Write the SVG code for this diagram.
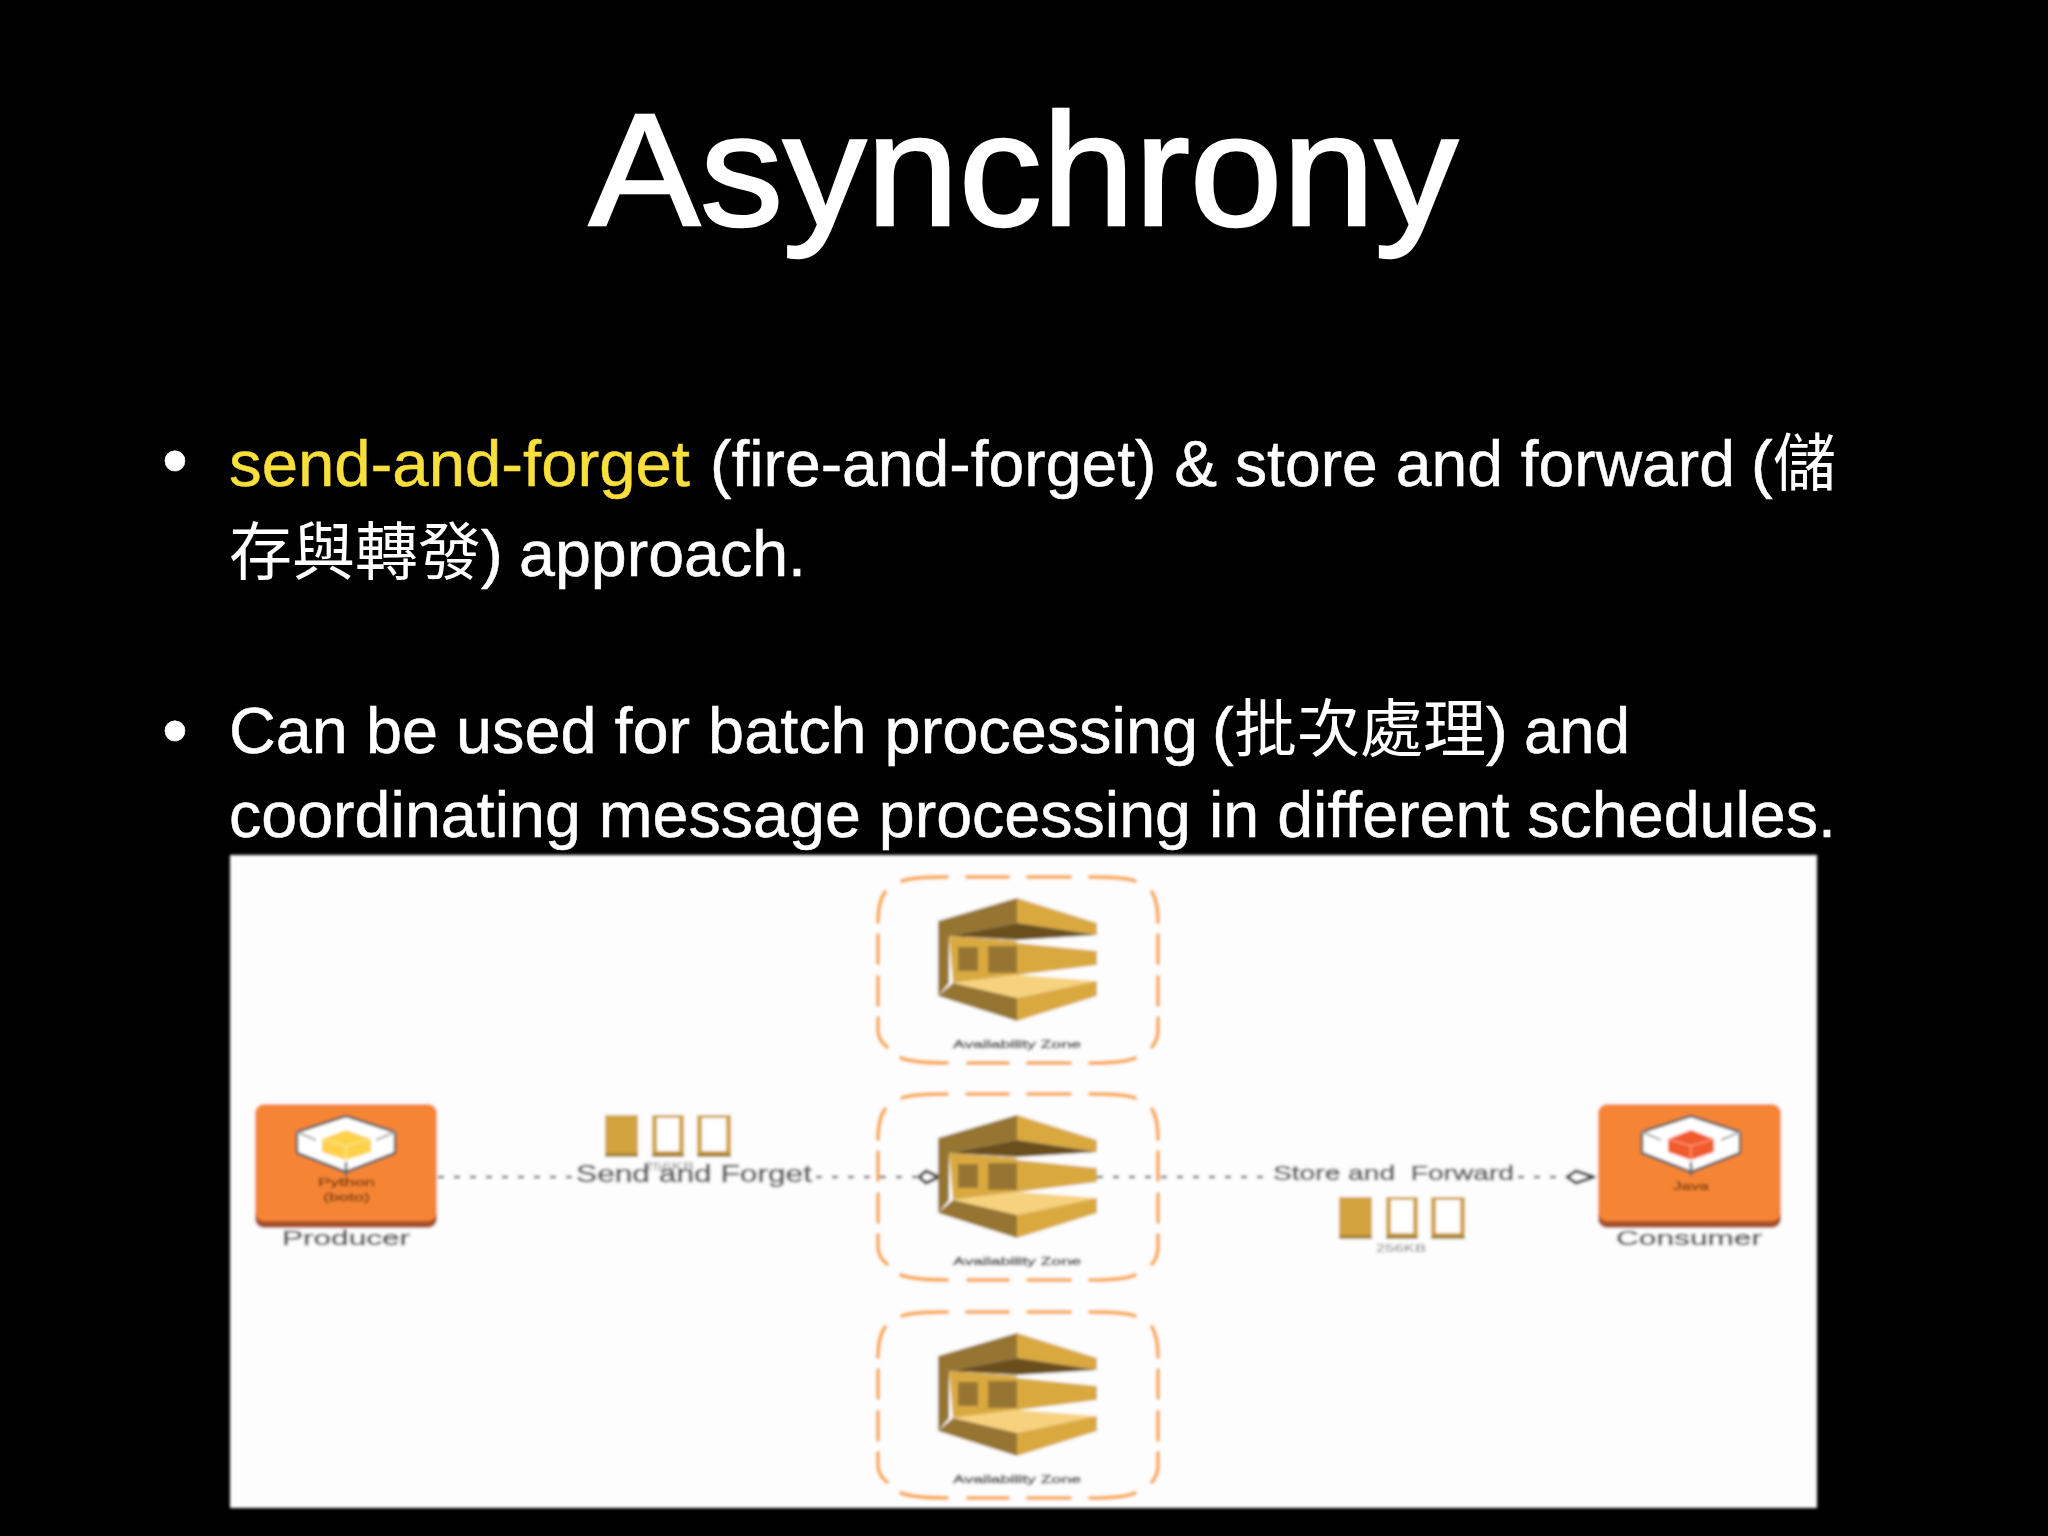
<svg xmlns="http://www.w3.org/2000/svg" xmlns:xlink="http://www.w3.org/1999/xlink" width="2048" height="1536" viewBox="0 0 2048 1536">
<style>
.t{font-family:"Liberation Sans","Noto Sans CJK TC",sans-serif;fill:#fff;font-size:65px;stroke:#fff;stroke-width:.5px}
.y{fill:#f8df3c;stroke:#f8df3c}
.cjk{font-family:"Noto Sans CJK TC",sans-serif;font-size:63px;stroke:none}
.b{font-size:74px}
.l{font-family:"Liberation Sans",sans-serif;fill:#5c5c5c;stroke:#5c5c5c;stroke-width:.6px}
.n{font-family:"Liberation Sans",sans-serif;font-size:11px;fill:#803c10;stroke:#803c10;stroke-width:.4px}
.dark{fill:#967530}.mid{fill:#d9a93f}.deep{fill:#6b4f1f}.lite{fill:#f7d27e}
.dots{stroke:#666;stroke-width:2.5;stroke-dasharray:6 10;fill:none}
.az{fill:none;stroke:#f9a94a;stroke-width:4;stroke-linecap:round}
.arrow{fill:#fff;stroke:#3c3c3c;stroke-width:3.2;stroke-linejoin:round}
</style>
<defs>
<filter id="soft" filterUnits="userSpaceOnUse" x="225" y="850" width="1600" height="664"><feGaussianBlur stdDeviation="1.4"/></filter>
<g id="azbox">
<path class="az" d="M902 881Q912 877 947 877M967 877H1008M1028 877H1070M1090 877Q1125 877 1135 881M885 892Q878 902 878 922M878 935V963M878 977V1005M878 1018V1030Q878 1040 887 1047M901 1058Q915 1063 947 1063M968 1063H1008M1028 1063H1070M1090 1063Q1125 1063 1135 1058M1152 892Q1158 902 1158 922M1158 935V963M1158 977V1005M1158 1018V1030Q1158 1040 1152 1047"/>
<polygon class="dark" points="938,921 1017,898 1017,923 949,936 949,983 938,996"/>
<polygon class="mid" points="1017,898 1097,923 1097,935 1017,923"/>
<polygon class="deep" points="949,936 1017,923 1097,935 1017,940"/>
<polygon class="mid" points="949,936 1017,941 1017,975 953,983"/>
<rect class="dark" x="958" y="947" width="20" height="24"/>
<rect class="dark" x="988" y="946" width="29" height="27"/>
<polygon class="mid" points="1017,943 1097,951 1097,965 1017,975"/>
<polygon class="lite" points="953,983 1017,975 1097,981 1017,998"/>
<polygon class="dark" points="938,996 953,983 1017,998 1017,1021"/>
<polygon class="mid" points="1017,998 1097,981 1097,996 1017,1021"/>
</g>
<g id="hex">
<polygon points="0,0 49,16 49,37 0,56 -49,37 -49,16" fill="#fff" stroke="#5a5a5a" stroke-width="2.5" stroke-linejoin="round"/>
<path d="M-49 16L-30 24M49 16L30 24" stroke="#aaa" stroke-width="2" fill="none"/>
<path d="M0 46V60" stroke="#666" stroke-width="2.5" fill="none"/>
</g>
<g id="pack">
<rect x="0" y="0" width="33" height="42" fill="#d2a43f"/><rect x="0" y="38" width="33" height="4" fill="#a8842e"/>
<rect x="47" y="0" width="32" height="42" fill="#d2a43f"/><rect x="52" y="3" width="22" height="33" fill="#fff"/><rect x="47" y="38" width="32" height="4" fill="#a8842e"/>
<rect x="92" y="0" width="34" height="42" fill="#d2a43f"/><rect x="97" y="3" width="24" height="33" fill="#fff"/><rect x="92" y="38" width="34" height="4" fill="#a8842e"/>
</g>
</defs>
<rect width="2048" height="1536" fill="#000"/>

<text x="589" y="225" font-family="'Liberation Sans',sans-serif" font-size="160" fill="#fff" stroke="#fff" stroke-width="2.5" textLength="869" lengthAdjust="spacingAndGlyphs">Asynchrony</text>

<text class="t b" x="175" y="486" text-anchor="middle">•</text>
<text class="t y" x="229" y="486" textLength="461" lengthAdjust="spacingAndGlyphs">send-and-forget</text>
<text class="t" x="710" y="486" textLength="1025" lengthAdjust="spacingAndGlyphs">(fire-and-forget) &amp; store and forward</text>
<text class="t" x="1751" y="486">(</text>
<text class="t cjk" x="1773" y="485">儲</text>
<text class="t cjk" x="229" y="574">存與轉發</text>
<text class="t" x="481" y="576">)</text>
<text class="t" x="519" y="576" textLength="287" lengthAdjust="spacingAndGlyphs">approach.</text>

<text class="t b" x="175" y="756" text-anchor="middle">•</text>
<text class="t" x="229" y="753" textLength="969" lengthAdjust="spacingAndGlyphs">Can be used for batch processing</text>
<text class="t" x="1212" y="753">(</text>
<text class="t cjk" x="1234" y="751">批次處理</text>
<text class="t" x="1486" y="753">)</text>
<text class="t" x="1524" y="753" textLength="106" lengthAdjust="spacingAndGlyphs">and</text>
<text class="t" x="229" y="837" textLength="1607" lengthAdjust="spacingAndGlyphs">coordinating message processing in different schedules.</text>

<g id="picture" filter="url(#soft)">
<rect x="230" y="855" width="1587" height="653" fill="#fdfdfd"/>
<g id="connectors">
<path class="dots" d="M438 1177H574M816 1177H917"/>
<path class="dots" d="M1097 1177H1268M1518 1177H1565"/>
<polygon class="arrow" points="919,1177 926,1171 939,1177 926,1183"/>
<polygon class="arrow" points="1567,1177 1576,1171 1594,1177 1576,1183"/>
</g>
<g id="az1"><use xlink:href="#azbox" href="#azbox"/><text class="l" x="953" y="1048" font-size="11" textLength="128" lengthAdjust="spacingAndGlyphs">Availability Zone</text></g>
<g id="az2"><use xlink:href="#azbox" href="#azbox" y="217"/><text class="l" x="953" y="1265" font-size="11" textLength="128" lengthAdjust="spacingAndGlyphs">Availability Zone</text></g>
<g id="az3"><use xlink:href="#azbox" href="#azbox" y="435"/><text class="l" x="953" y="1483" font-size="11" textLength="128" lengthAdjust="spacingAndGlyphs">Availability Zone</text></g>
<g id="producer">
<rect x="255" y="1106" width="182" height="122" rx="9" fill="#a8502a"/>
<rect x="255" y="1104" width="182" height="117" rx="9" fill="#f58534"/>
<use xlink:href="#hex" href="#hex" x="346" y="1116"/>
<polygon points="346,1130 371,1139 371,1152 346,1160 322,1152 322,1139" fill="#fdd14a"/>
<path d="M322 1139L346 1146L371 1139M346 1146V1160" stroke="#ffe48a" stroke-width="1.5" fill="none"/>
<text class="n" x="318" y="1186" textLength="57" lengthAdjust="spacingAndGlyphs">Python</text>
<text class="n" x="323" y="1201" textLength="47" lengthAdjust="spacingAndGlyphs">(boto)</text>
<text class="l" x="282" y="1245" font-size="21" textLength="128" lengthAdjust="spacingAndGlyphs">Producer</text>
</g>
<g id="send-and-forget">
<use xlink:href="#pack" href="#pack" x="605" y="1115"/>
<text x="644" y="1170" font-family="'Liberation Sans',sans-serif" font-size="10" fill="#888" textLength="50" lengthAdjust="spacingAndGlyphs">256KB</text>
<text class="l" x="576" y="1182" font-size="23" textLength="236" lengthAdjust="spacingAndGlyphs">Send and Forget</text>
</g>
<g id="store-and-forward">
<text class="l" x="1273" y="1180" font-size="20" textLength="241" lengthAdjust="spacingAndGlyphs" xml:space="preserve">Store and  Forward</text>
<use xlink:href="#pack" href="#pack" x="1339" y="1197"/>
<text x="1376" y="1252" font-family="'Liberation Sans',sans-serif" font-size="10" fill="#777" textLength="50" lengthAdjust="spacingAndGlyphs">256KB</text>
</g>
<g id="consumer">
<rect x="1598" y="1106" width="183" height="122" rx="9" fill="#a8502a"/>
<rect x="1598" y="1104" width="183" height="117" rx="9" fill="#f58534"/>
<use xlink:href="#hex" href="#hex" x="1691" y="1116"/>
<polygon points="1691,1130 1714,1139 1714,1152 1691,1160 1668,1152 1668,1139" fill="#f15a2b"/>
<path d="M1668 1139L1691 1146L1714 1139M1691 1146V1160" stroke="#ff9a7a" stroke-width="1.5" fill="none"/>
<text class="n" x="1673" y="1190" textLength="36" lengthAdjust="spacingAndGlyphs">Java</text>
<text class="l" x="1616" y="1245" font-size="21" textLength="146" lengthAdjust="spacingAndGlyphs">Consumer</text>
</g>
</g>
</svg>
